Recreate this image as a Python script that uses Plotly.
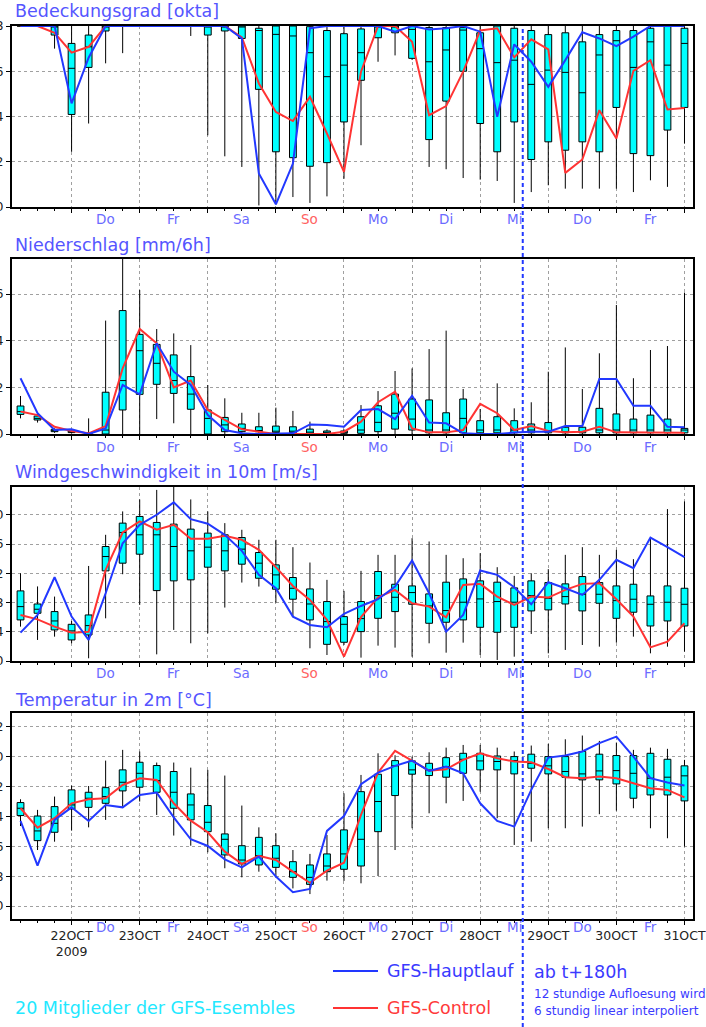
import plotly.graph_objects as go
import pandas as pd

W, H = 706, 1027

# ---------------- data (6-hourly, 21 Oct 06Z .. 31 Oct 00Z) ----------------
times = pd.date_range("2009-10-21 06:00", periods=40, freq="6h")
day_ticks = pd.date_range("2009-10-22", "2009-10-31", freq="D")
day_ticktext = ["22OCT<br>2009", "23OCT", "24OCT", "25OCT", "26OCT", "27OCT",
                "28OCT", "29OCT", "30OCT", "31OCT"]
weekday_dates = pd.date_range("2009-10-22 12:00", periods=9, freq="D")
weekday_names = ["Do", "Fr", "Sa", "So", "Mo", "Di", "Mi", "Do", "Fr"]

# Bedeckungsgrad [okta]
cloud_min = [8, 8, 7.0, 2.44, 3.69, 6.35, 6.8, 8, 8, 8, 7.56, 3.17, 2.24, 1.77, 0.07, 0.12, 0.44, 0.18, 0.47, 1.25,
             2.73, 6.42, 6.7, 6.5, 1.77, 1.67, 1.28, 1.21, 1.15, 0.18, 0.66, 0.96, 0.81, 0.81, 0.81, 0.81, 0.66, 1.18, 0.89, 2.8]
cloud_q1 = [8, 8, 7.6, 4.09, 6.17, 7.78, 8, 8, 8, 8, 8, 7.6, 7.78, 7.45, 5.2, 2.44, 2.18, 1.8, 1.96, 3.76,
            5.6, 7.48, 7.7, 6.57, 2.98, 4.68, 6.0, 3.69, 2.44, 3.76, 2.1, 2.88, 2.51, 2.88, 2.44, 4.4, 2.36, 2.27, 3.4, 4.4]
cloud_med = [8, 8, 8, 6.13, 7.08, 8, 8, 8, 8, 8, 8, 8, 8, 8, 7.8, 7.63, 7.56, 6.82, 5.76, 6.27,
             6.82, 8, 8, 7.85, 6.42, 6.94, 7.82, 7.0, 6.38, 6.49, 5.42, 6.05, 5.95, 5.05, 6.72, 7.35, 6.17, 7.3, 6.27, 7.23]
cloud_q3 = [8, 8, 8, 7.23, 7.6, 8, 8, 8, 8, 8, 8, 8, 8, 8, 7.9, 8, 8, 7.97, 7.8, 7.66,
            7.87, 8, 8, 8, 7.93, 7.93, 7.93, 7.7, 8, 7.9, 7.8, 7.62, 7.7, 7.3, 7.62, 7.8, 7.8, 7.9, 8, 7.9]
cloud_max = [8] * 40
cloud_main = [8, 8, 8, 4.58, 6.6, 8, 8, 8, 8, 8, 8, 8, 8, 7.45, 1.48, 0.12, 1.92, 7.9, 8, 8,
              8, 8, 7.75, 8, 7.85, 7.9, 8, 7.75, 3.99, 7.19, 6.42, 5.31, 6.49, 7.72, 7.45, 7.11, 7.53, 8, 8, 8]
cloud_ctrl = [8, 8, 7.7, 6.82, 7.08, 8, 8, 8, 8, 8, 8, 8, 8, 7.5, 5.46, 4.2, 3.8, 4.87, 3.25, 1.55,
              5.98, 8, 8, 7.3, 4.06, 4.46, 5.98, 7.8, 7.9, 6.61, 7.41, 6.97, 1.51, 2.1, 4.28, 3.03, 6.02, 6.49, 4.31, 4.38]

# Niederschlag [mm/6h]
prec_min = [0.67, 0.49, 0.05, 0.03, 0, 0, 0, 0, 0.64, 0.46, 0, 0, 0, 0, 0, 0, 0, 0, 0, 0,
            0, 0, 0, 0, 0, 0, 0, 0, 0, 0, 0, 0, 0, 0, 0, 0, 0, 0, 0, 0]
prec_q1 = [0.84, 0.6, 0.1, 0.06, 0, 0, 1.03, 1.7, 2.13, 1.74, 1.06, 0, 0.1, 0.1, 0.1, 0.06, 0.06, 0.03, 0.03, 0.03,
           0.03, 0.1, 0.21, 0.17, 0.05, 0.05, 0.05, 0.05, 0.05, 0.05, 0.05, 0.05, 0.05, 0.05, 0.05, 0.05, 0.05, 0.05, 0.05, 0.05]
prec_med = [0.96, 0.67, 0.14, 0.09, 0.02, 0.17, 2.29, 3.57, 3.03, 2.29, 1.71, 0.67, 0.39, 0.24, 0.15, 0.12, 0.12, 0.08, 0.06, 0.06,
            0.17, 0.5, 0.89, 0.64, 0.17, 0.17, 0.67, 0.17, 0.17, 0.17, 0.17, 0.13, 0.1, 0.1, 0.17, 0.17, 0.17, 0.17, 0.17, 0.17]
prec_q3 = [1.2, 0.77, 0.2, 0.13, 0.05, 1.79, 5.29, 4.27, 3.84, 3.39, 2.46, 1.03, 0.71, 0.43, 0.31, 0.34, 0.31, 0.21, 0.13, 0.13,
           0.74, 1.21, 1.71, 1.5, 1.46, 0.91, 1.5, 0.57, 0.74, 0.57, 0.43, 0.49, 0.29, 0.29, 1.1, 0.86, 0.64, 0.81, 0.64, 0.24]
prec_max = [1.63, 0.89, 0.24, 0.2, 0.67, 4.86, 7.6, 6.17, 4.5, 4.31, 3.81, 2.1, 1.53, 0.91, 0.91, 1.13, 0.99, 0.53, 0.2, 0.2,
            1.24, 1.84, 2.7, 2.81, 3.64, 4.43, 1.93, 1.07, 2.17, 1.1, 1.36, 2.67, 3.71, 1.93, 3.46, 5.53, 2.39, 3.6, 3.77, 6.06]
prec_main = [2.39, 0.89, 0.17, 0.2, 0, 0.24, 2.1, 1.7, 3.89, 2.67, 2.1, 0.81, 0.17, 0.03, 0, 0, 0.03, 0.41, 0.39, 0.31,
             1.03, 1.07, 0.64, 1.64, 0.49, 0.46, 0.03, 0, 0, 0.06, 0.1, 0.1, 0.34, 0.34, 2.36, 2.36, 1.21, 1.21, 0.31, 0.29]
prec_ctrl = [0.96, 0.81, 0.31, 0.13, 0.03, 0.34, 2.81, 4.5, 3.89, 2.0, 2.29, 1.03, 0.6, 0.2, 0.1, 0, 0, 0, 0, 0.1,
             0.53, 1.36, 1.81, 0.24, 0.07, 0.07, 0.17, 1.29, 0.89, 0.17, 0.34, 0.13, 0.07, 0.1, 0.31, 0.07, 0.07, 0.07, 0.05, 0.05]

# Windgeschwindigkeit in 10m [m/s]
wind_min = [4.7, 2.88, 3.33, 2.42, 0.37, 5.84, 11.87, 7.67, 0.91, 4.25, 2.42, 3.79, 7.31, 10.73, 10.18, 7.99, 6.07, 1.74, 0.82, 2.19,
            0.46, 2.1, 1.83, 0.59, 2.42, 1.14, 2.51, 0.82, 0.14, 0.59, 3.7, 1.05, 1.51, 2.19, 1.96, 2.51, 3.33, 1.05, 1.96, 1.28]
wind_q1 = [5.62, 6.53, 4.25, 2.88, 3.56, 12.33, 13.38, 14.61, 9.63, 10.96, 11.1, 12.83, 12.33, 13.24, 11.32, 9.82, 8.45, 5.62, 2.28, 2.56,
           4.02, 5.84, 6.76, 7.76, 5.16, 5.3, 5.62, 4.61, 3.93, 4.61, 6.85, 6.99, 7.8, 6.85, 7.9, 5.84, 6.67, 4.79, 5.48, 4.79]
wind_med = [7.44, 7.08, 5.48, 4.11, 4.84, 14.29, 17.58, 17.26, 17.26, 15.66, 15.07, 15.57, 15.07, 15.3, 13.38, 11.78, 9.95, 7.8, 5.39, 5.02,
            5.8, 8.95, 8.72, 9.36, 7.53, 6.9, 8.04, 8.49, 8.13, 8.04, 8.95, 8.58, 8.81, 9.13, 9.13, 8.26, 8.45, 7.76, 8.04, 7.76]
wind_q3 = [9.59, 7.8, 6.76, 5.02, 6.3, 15.66, 18.86, 19.77, 18.95, 18.72, 18.04, 17.49, 17.26, 16.89, 14.84, 13.15, 11.42, 9.86, 8.13, 6.07,
           8.13, 12.24, 10.5, 10.27, 9.18, 10.78, 11.23, 10.96, 10.78, 10.0, 10.96, 10.73, 10.55, 11.55, 10.73, 10.27, 10.5, 8.9, 10.27, 9.95]
wind_max = [12.0, 10.2, 8.81, 5.48, 13.0, 17.26, 20.46, 22.1, 23.4, 24.0, 22.1, 20.46, 18.86, 17.95, 16.58, 16.58, 15.57, 13.47, 11.1, 9.59,
            12.33, 14.52, 14.52, 16.8, 16.35, 14.52, 14.06, 14.75, 12.83, 11.64, 12.0, 12.56, 14.52, 15.57, 14.52, 15.2, 13.93, 16.8, 20.78, 21.83]
wind_main = [3.88, 6.3, 11.46, 6.07, 2.88, 9.27, 16.1, 18.63, 20.0, 21.7, 19.4, 18.77, 17.26, 15.07, 11.78, 9.95, 6.07, 4.93, 4.61, 6.44,
             7.53, 8.45, 10.18, 13.74, 9.27, 4.02, 6.3, 12.37, 11.78, 10.09, 7.76, 10.78, 9.95, 9.04, 11.1, 13.84, 12.69, 16.89, 15.57, 14.2]
wind_ctrl = [6.3, 5.7, 4.7, 3.88, 4.0, 12.47, 17.58, 19.09, 17.95, 18.63, 16.71, 16.71, 17.12, 16.58, 15.2, 12.83, 10.27, 8.36, 5.62, 0.59,
             6.0, 8.72, 9.73, 7.9, 7.44, 5.98, 10.41, 10.55, 8.81, 7.67, 8.81, 8.68, 9.73, 10.55, 10.64, 8.45, 6.07, 1.87, 2.65, 5.16]

# Temperatur in 2m [°C]
temp_min = [-4.64, -6.25, -5.69, -4.95, -4.73, -4.23, -3.34, -3.0, -3.9, -5.28, -5.96, -6.4, -7.47, -8.08, -7.7, -7.99, -8.82, -9.2, -8.3, -8.32,
            -8.48, -7.99, -6.25, -4.79, -3.79, -3.12, -2.96, -2.34, -4.12, -5.91, -5.69, -4.79, -4.79, -4.68, -3.85, -3.61, -3.45, -4.79, -5.46, -6.02]
temp_q1 = [-3.94, -5.62, -5.06, -3.5, -3.39, -3.12, -2.29, -2.04, -2.38, -3.45, -4.23, -5.02, -6.58, -7.18, -7.25, -7.41, -8.08, -8.55, -7.7, -7.54,
           -7.32, -5.02, -2.6, -1.17, -1.26, -1.37, -1.11, -0.88, -0.88, -1.15, -0.77, -1.15, -1.37, -1.55, -1.55, -1.82, -2.78, -2.56, -2.56, -2.96]
temp_med = [-3.45, -4.97, -4.46, -3.23, -2.78, -2.67, -1.71, -1.11, -1.6, -2.38, -3.23, -4.39, -5.53, -6.92, -6.63, -6.8, -7.7, -8.08, -7.32, -6.51,
            -5.53, -3.0, -0.61, -0.88, -0.88, -0.66, -0.17, -0.28, -0.32, -0.26, -0.44, -0.61, -0.99, -1.15, -0.95, -0.93, -1.11, -1.44, -1.37, -1.28]
temp_q3 = [-3.07, -3.97, -3.34, -2.22, -2.38, -2.07, -0.88, -0.37, -0.59, -0.99, -2.49, -3.27, -5.17, -5.96, -5.4, -5.96, -7.03, -7.25, -6.51, -4.9,
           -2.34, -1.17, -0.26, -0.28, -0.44, -0.06, 0.23, 0.23, 0.05, 0.01, 0.17, 0.01, 0.01, 0.35, 0.17, 0.08, 0.08, 0.23, -0.17, -0.61]
temp_max = [-2.85, -3.56, -2.67, -1.93, -1.96, -0.26, 0.46, 0.35, -0.39, -0.39, -0.73, -0.88, -1.26, -3.27, -4.73, -5.13, -6.25, -6.51, -5.24, -2.45,
            -1.22, 0.23, 0.1, 0.01, 0.3, 0.61, 0.79, 0.79, 0.61, 0.35, 0.75, 0.86, 1.17, 1.42, 1.06, 0.95, 0.46, 0.61, 0.53, -0.21]
temp_main = [-4.3, -7.3, -4.23, -3.39, -4.3, -3.23, -3.39, -2.56, -2.4, -4.06, -5.53, -5.98, -6.87, -7.41, -6.69, -8.03, -9.08, -8.86, -4.97, -3.97,
             -1.84, -1.06, -0.61, -0.26, -0.95, -0.66, -1.11, -3.12, -4.3, -4.68, -2.22, -0.06, 0.08, 0.35, 0.91, 1.35, 0.01, -1.44, -1.73, -1.93]
temp_ctrl = [-3.45, -4.75, -4.12, -3.12, -2.85, -2.78, -1.89, -1.44, -1.55, -3.12, -4.28, -5.06, -6.36, -7.18, -6.63, -6.92, -7.7, -8.44, -7.63, -7.1,
             -3.9, -1.06, 0.39, -0.28, -0.93, -0.84, -0.21, 0.23, -0.1, -0.32, -0.37, -0.82, -1.37, -1.44, -1.33, -1.44, -1.78, -2.11, -2.22, -2.72]

panel_titles = ["Bedeckungsgrad [okta]", "Niederschlag [mm/6h]",
                "Windgeschwindigkeit in 10m [m/s]", "Temperatur in 2m [°C]"]
y_ranges = [[0, 8], [0, 7.5], [0, 23.8], [-10.87, 2.93]]
y_ticks = [[0, 2, 4, 6, 8], [0, 2, 4, 6], [0, 4, 8, 12, 16, 20], [-10, -8, -6, -4, -2, 0, 2]]

series = [
    (cloud_min, cloud_q1, cloud_med, cloud_q3, cloud_max, cloud_main, cloud_ctrl),
    (prec_min, prec_q1, prec_med, prec_q3, prec_max, prec_main, prec_ctrl),
    (wind_min, wind_q1, wind_med, wind_q3, wind_max, wind_main, wind_ctrl),
    (temp_min, temp_q1, temp_med, temp_q3, temp_max, temp_main, temp_ctrl),
]

# ---------------- layout geometry (pixels) ----------------
plot_x0, plot_x1 = 12, 693
panel_px = [(26, 207), (259, 434), (487, 661), (713, 919)]
title_y = [11, 245, 472, 700]
dayname_y = [219, 447, 673, 927]

FONT = "DejaVu Sans"
CYAN = "#00ffff"
BLUE_LINE = "#2238ff"
RED_LINE = "#ff3333"
TITLE_BLUE = "#5555ff"
DAY_BLUE = "#6b6bff"
DAY_RED = "#ff6262"
GRID = "#a0a0a0"


def py(px):
    return 1 - px / H


fig = go.Figure()
layout = dict(
    width=W, height=H, margin=dict(l=0, r=0, t=0, b=0),
    paper_bgcolor="white", plot_bgcolor="white", showlegend=False,
    font=dict(family=FONT, size=12, color="black"),
)

box_width_ms = 2.4 * 3600 * 1000

for k, (lo, q1, med, q3, hi, main, ctrl) in enumerate(series):
    sfx = "" if k == 0 else str(k + 1)
    fig.add_trace(go.Box(
        x=times, lowerfence=lo, q1=q1, median=med, q3=q3, upperfence=hi,
        xaxis="x" + sfx, yaxis="y" + sfx, fillcolor=CYAN,
        line=dict(color="black", width=1), width=box_width_ms,
        whiskerwidth=0, boxpoints=False, hoverinfo="skip",
    ))
    fig.add_trace(go.Scatter(x=times, y=ctrl, mode="lines", xaxis="x" + sfx, yaxis="y" + sfx,
                             line=dict(color=RED_LINE, width=2), hoverinfo="skip"))
    fig.add_trace(go.Scatter(x=times, y=main, mode="lines", xaxis="x" + sfx, yaxis="y" + sfx,
                             line=dict(color=BLUE_LINE, width=2), hoverinfo="skip"))

    top, bot = panel_px[k]
    layer = "below traces" if k == 0 else "above traces"
    layout["xaxis" + sfx] = dict(
        type="date", range=["2009-10-21 03:00", "2009-10-31 03:00"],
        domain=[plot_x0 / W, plot_x1 / W], anchor="y" + sfx,
        tickvals=day_ticks, ticktext=day_ticktext, showticklabels=(k == 3),
        tickfont=dict(family=FONT, size=12.5, color="#222222"),
        ticks="outside", ticklen=4, tickcolor="black", tickwidth=1,
        minor=dict(dtick=6 * 3600 * 1000, ticks="outside", ticklen=2, tickcolor="black", showgrid=False),
        showgrid=True, gridcolor=GRID, griddash="dot", gridwidth=1,
        showline=True, mirror=True, linecolor="black", linewidth=2,
        zeroline=False, automargin=False, fixedrange=True, layer=layer,
    )
    layout["yaxis" + sfx] = dict(
        domain=[py(bot), py(top)], anchor="x" + sfx, range=y_ranges[k],
        tickvals=y_ticks[k], ticks="outside", ticklen=4, tickcolor="black",
        tickfont=dict(family=FONT, size=12.5, color="#222222"), ticklabelstandoff=0,
        showgrid=True, gridcolor=GRID, griddash="dot", gridwidth=1,
        showline=True, mirror=True, linecolor="black", linewidth=2,
        zeroline=False, automargin=False, fixedrange=True, layer=layer,
    )

annotations = []
for k in range(4):
    annotations.append(dict(
        text=panel_titles[k], xref="paper", yref="paper", x=13 / W, y=py(title_y[k]),
        xanchor="left", yanchor="middle", showarrow=False,
        font=dict(family=FONT, size=17.5, color=TITLE_BLUE),
    ))
    for d, name in zip(weekday_dates, weekday_names):
        annotations.append(dict(
            text=name, xref="x", yref="paper", x=d, y=py(dayname_y[k]),
            xanchor="center", yanchor="middle", showarrow=False,
            font=dict(family=FONT, size=13.5, color=DAY_RED if name == "So" else DAY_BLUE),
        ))

legend_texts = [
    ("GFS-Hauptlauf", 385, 971, 17.5, "#3a3aff"),
    ("GFS-Control", 385, 1008, 17.5, "#ff3a3a"),
    ("20 Mitglieder der GFS-Esembles", 13, 1008, 17.5, "#22e8ff"),
    ("ab t+180h", 532, 972, 17.5, "#3a3aff"),
    ("12 stundige Aufloesung wird", 532, 994, 12, "#3a3aff"),
    ("6 stundig linear interpoliert", 532, 1011, 12, "#3a3aff"),
]
for txt, x, y, size, col in legend_texts:
    annotations.append(dict(
        text=txt, xref="paper", yref="paper", x=x / W, y=py(y),
        xanchor="left", yanchor="middle", showarrow=False,
        font=dict(family=FONT, size=size, color=col),
    ))

shapes = [
    dict(type="line", xref="paper", yref="paper", x0=333 / W, x1=378 / W, y0=py(971), y1=py(971),
         line=dict(color=BLUE_LINE, width=2)),
    dict(type="line", xref="paper", yref="paper", x0=333 / W, x1=378 / W, y0=py(1008), y1=py(1008),
         line=dict(color=RED_LINE, width=2)),
    dict(type="line", xref="x", yref="paper", x0="2009-10-28 15:00", x1="2009-10-28 15:00",
         y0=0, y1=py(26), line=dict(color=BLUE_LINE, width=2, dash="4px,3px"), layer="above"),
]

layout["annotations"] = annotations
layout["shapes"] = shapes
fig.update_layout(**layout)

fig.write_html("out.html")
